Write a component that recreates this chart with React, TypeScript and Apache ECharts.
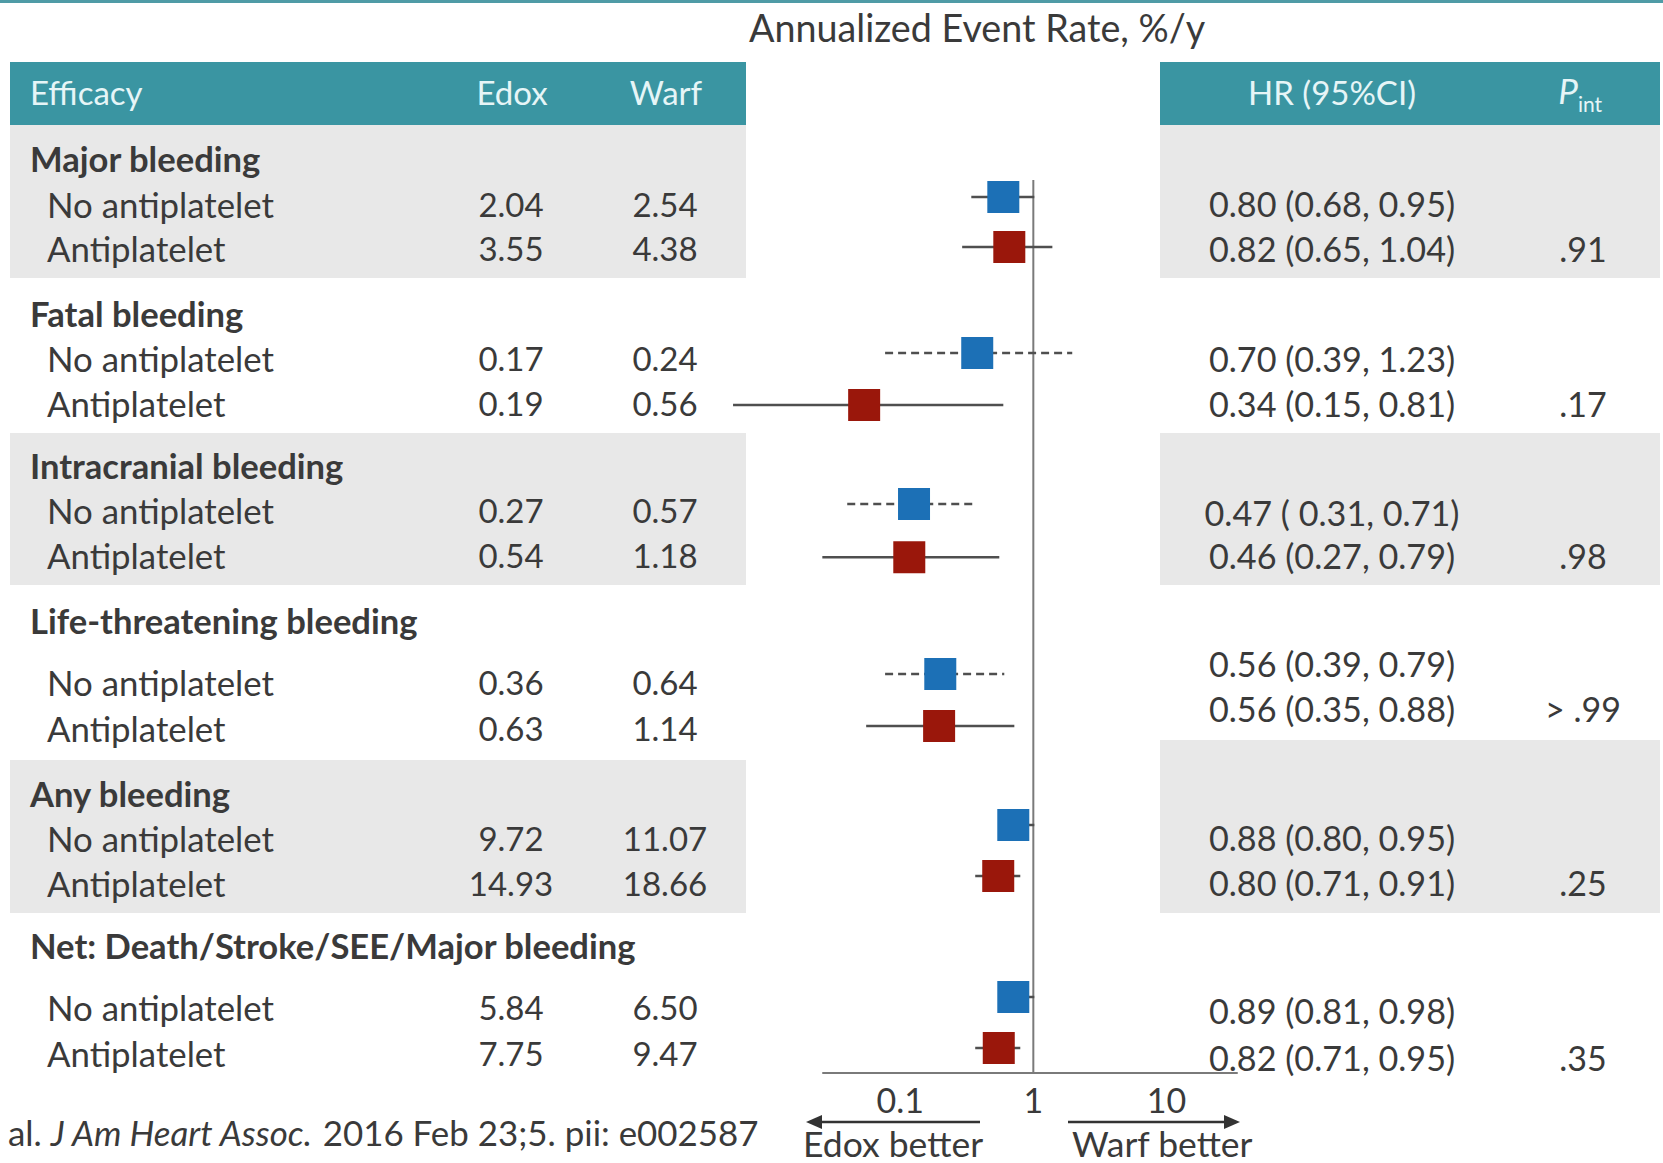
import React, { useEffect, useRef } from "react";
import * as echarts from "echarts";

// ---------- data ----------
const groups = [
  "Major bleeding",
  "Fatal bleeding",
  "Intracranial bleeding",
  "Life-threatening bleeding",
  "Any bleeding",
  "Net: Death/Stroke/SEE/Major bleeding",
];
const subgroups = ["No antiplatelet", "Antiplatelet"];
const edoxRates = [2.04, 3.55, 0.17, 0.19, 0.27, 0.54, 0.36, 0.63, 9.72, 14.93, 5.84, 7.75];
const warfRates = [2.54, 4.38, 0.24, 0.56, 0.57, 1.18, 0.64, 1.14, 11.07, 18.66, 6.5, 9.47];
const hrLabels = [
  "0.80 (0.68, 0.95)",
  "0.82 (0.65, 1.04)",
  "0.70 (0.39, 1.23)",
  "0.34 (0.15, 0.81)",
  "0.47 ( 0.31, 0.71)",
  "0.46 (0.27, 0.79)",
  "0.56 (0.39, 0.79)",
  "0.56 (0.35, 0.88)",
  "0.88 (0.80, 0.95)",
  "0.80 (0.71, 0.91)",
  "0.89 (0.81, 0.98)",
  "0.82 (0.71, 0.95)",
];
const pInt = [".91", ".17", ".98", "> .99", ".25", ".35"];

// plotted positions (HR scale) as drawn in the figure
const plotPoint = [0.595, 0.66, 0.379, 0.0536, 0.127, 0.117, 0.2, 0.196, 0.707, 0.545, 0.707, 0.55];
const plotLow = [0.342, 0.292, 0.077, 0.00555, 0.04, 0.026, 0.077, 0.0555, 0.575, 0.366, 0.575, 0.366];
const plotHigh = [1.017, 1.39, 1.96, 0.595, 0.373, 0.555, 0.605, 0.72, 1.017, 0.798, 1.017, 0.798];
const dashedCI = [0, 0, 1, 0, 1, 0, 1, 0, 0, 0, 0, 0];
const markRow = [1.42, 2.48, 4.73, 5.83, 7.93, 9.06, 11.54, 12.64, 14.74, 15.82, 18.39, 19.47];
const axisTicks = [0.1, 1, 10];
const refValue = 1;

// ---------- style ----------
const FONT = 'Lato, "Noto Sans", sans-serif';
const TEXT = "#3a3a3a";
const TEAL = "#3a95a2";
const BAND = "#e8e8e8";
const BLUE = "#1c70b6";
const RED = "#9a170b";
const FS = 33;

const groupY = [158, 313, 465, 620, 793, 945];
const rowY = [204, 248, 358, 403, 510, 555, 682, 728, 838, 883, 1007, 1053];
const hrY = [203, 248, 358, 403, 512, 555, 663, 708, 837, 882, 1010, 1057];
const leftBands = [[125, 278], [433, 585], [760, 913]];
const rightBands = [[125, 278], [433, 585], [740, 913]];

function txt(text: string, x: number, y: number, opts: any = {}) {
  const align = opts.align || "left";
  const va = opts.va || "middle";
  return {
    type: "text",
    x,
    y,
    z: 10,
    silent: true,
    style: {
      text,
      fontSize: opts.fontSize || FS,
      fontFamily: FONT,
      fontWeight: opts.fontWeight || "normal",
      fontStyle: opts.fontStyle || "normal",
      fill: opts.fill || TEXT,
      align,
      textAlign: align,
      verticalAlign: va,
      textVerticalAlign: va,
      rich: opts.rich,
    },
  };
}

export default function App() {
  const ref = useRef<HTMLDivElement>(null);
  useEffect(() => {
    if (!ref.current) return;
    const chart = echarts.init(ref.current, undefined, { renderer: "svg" });
    const L = Math.log10;

    const graphics: any[] = [];
    // top rule
    graphics.push({ type: "rect", z: 0, shape: { x: 0, y: 0, width: 1663, height: 3 }, style: { fill: "#4f9ba6" } });
    // bands
    leftBands.forEach(([a, b]) =>
      graphics.push({ type: "rect", z: 0, shape: { x: 10, y: a, width: 736, height: b - a }, style: { fill: BAND } })
    );
    rightBands.forEach(([a, b]) =>
      graphics.push({ type: "rect", z: 0, shape: { x: 1160, y: a, width: 500, height: b - a }, style: { fill: BAND } })
    );
    // headers
    graphics.push({ type: "rect", z: 1, shape: { x: 10, y: 62, width: 736, height: 63 }, style: { fill: TEAL } });
    graphics.push({ type: "rect", z: 1, shape: { x: 1160, y: 62, width: 500, height: 63 }, style: { fill: TEAL } });
    const HC = "#e6f5f7";
    graphics.push(txt("Efficacy", 30, 92, { fill: HC }));
    graphics.push(txt("Edox", 512, 92, { fill: HC, align: "center" }));
    graphics.push(txt("Warf", 666, 92, { fill: HC, align: "center" }));
    graphics.push(txt("HR (95%CI)", 1332, 92, { fill: HC, align: "center" }));
    graphics.push(txt("P", 1568, 90, { fill: HC, align: "center", fontStyle: "italic", fontSize: 35 }));
    graphics.push(txt("int", 1590, 103, { fill: HC, align: "center", fontSize: 21 }));

    graphics.push(txt("Annualized Event Rate, %/y", 749, 27, { fontSize: 37.7 }));

    groups.forEach((g, gi) => {
      graphics.push(txt(g, 30, groupY[gi], { fontWeight: "bold", fontSize: 34.6 }));
      subgroups.forEach((s, si) => {
        const i = gi * 2 + si;
        graphics.push(txt(s, 47, rowY[i], { fontSize: 34.8 }));
        graphics.push(txt(edoxRates[i].toFixed(2), 511, rowY[i], { align: "center" }));
        graphics.push(txt(warfRates[i].toFixed(2), 665, rowY[i], { align: "center" }));
        graphics.push(txt(hrLabels[i], 1332, hrY[i], { align: "center", fontSize: 34.2 }));
      });
      graphics.push(txt(pInt[gi], 1583, hrY[gi * 2 + 1], { align: "center", fontSize: 34 }));
    });

    // arrows + direction labels
    const AR = "#333333";
    graphics.push({ type: "line", z: 5, shape: { x1: 980, y1: 1122, x2: 818, y2: 1122 }, style: { stroke: AR, lineWidth: 2.5 } });
    graphics.push({ type: "polygon", z: 5, shape: { points: [[806, 1122], [822, 1115], [822, 1129]] }, style: { fill: AR } });
    graphics.push({ type: "line", z: 5, shape: { x1: 1068, y1: 1122, x2: 1228, y2: 1122 }, style: { stroke: AR, lineWidth: 2.5 } });
    graphics.push({ type: "polygon", z: 5, shape: { points: [[1240, 1122], [1224, 1115], [1224, 1129]] }, style: { fill: AR } });
    graphics.push(txt("Edox better", 803, 1161, { fontSize: 35.5, va: "bottom" }));
    graphics.push(txt("Warf better", 1072, 1161, { fontSize: 35.5, va: "bottom" }));

    // citation
    graphics.push(
      txt("al. {i|J Am Heart Assoc.} 2016 Feb 23;5. pii: e002587", 8, 1132, {
        fontSize: 34.9,
        rich: { i: { fontStyle: "italic", fontSize: 34.9, fontFamily: FONT, fill: TEXT } },
      })
    );

    const ciData = plotLow.map((lo, i) => [L(lo), L(plotHigh[i]), markRow[i], dashedCI[i]]);
    const blueData = plotPoint.filter((_, i) => i % 2 === 0).map((v, k) => [L(v), markRow[k * 2]]);
    const redData = plotPoint.filter((_, i) => i % 2 === 1).map((v, k) => [L(v), markRow[k * 2 + 1]]);

    chart.setOption({
      animation: false,
      backgroundColor: "#ffffff",
      grid: { left: 823, top: 130, width: 414, height: 943, containLabel: false },
      xAxis: {
        type: "value",
        min: -1.58,
        max: 1.53,
        position: "bottom",
        axisLine: { show: true, onZero: false, lineStyle: { color: "#7a7a7a", width: 2 } },
        axisTick: { show: false },
        splitLine: { show: false },
        axisLabel: {
          customValues: axisTicks.map((t) => L(t)),
          formatter: (v: number) => String(Math.round(Math.pow(10, v) * 1000) / 1000),
          fontSize: 34,
          fontFamily: FONT,
          color: TEXT,
          margin: 9,
        },
      },
      yAxis: { type: "value", min: 0, max: 20, inverse: true, show: false },
      graphic: { elements: graphics },
      series: [
        {
          type: "line",
          data: [[L(refValue), 1.06], [L(refValue), 20]],
          symbol: "none",
          lineStyle: { color: "#7a7a7a", width: 2 },
          silent: true,
          z: 1,
        },
        {
          type: "custom",
          clip: false,
          z: 2,
          encode: { x: [0, 1], y: 2 },
          data: ciData,
          renderItem: (_p: any, api: any) => {
            const a = api.coord([api.value(0), api.value(2)]);
            const b = api.coord([api.value(1), api.value(2)]);
            const style: any = { stroke: "#4f4f4f", lineWidth: 2.5 };
            if (api.value(3) === 1) style.lineDash = [8, 5];
            return { type: "line", shape: { x1: a[0], y1: a[1], x2: b[0], y2: b[1] }, style };
          },
        },
        {
          type: "scatter",
          z: 3,
          symbol: "rect",
          symbolSize: 32,
          data: blueData,
          itemStyle: { color: BLUE, opacity: 1 },
        },
        {
          type: "scatter",
          z: 3,
          symbol: "rect",
          symbolSize: 32,
          data: redData,
          itemStyle: { color: RED, opacity: 1 },
        },
      ],
    });
    return () => chart.dispose();
  }, []);

  return (
    <div
      ref={ref}
      style={{ position: "absolute", left: 0, top: 0, width: 1663, height: 1163, background: "#fff" }}
    />
  );
}
